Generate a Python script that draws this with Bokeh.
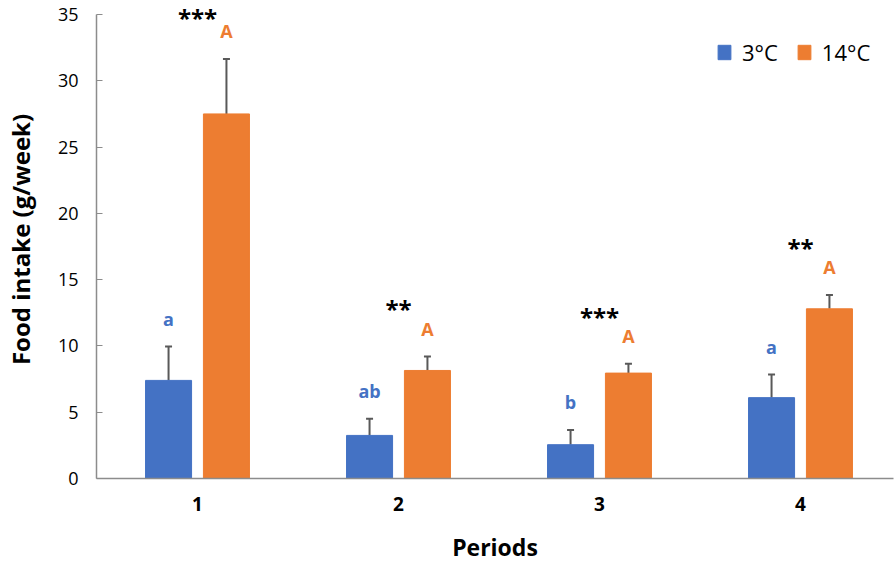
import numpy as np
from bokeh.plotting import figure
from bokeh.models import (ColumnDataSource, Whisker, TeeHead, LabelSet, FixedTicker,
                          Legend, LegendItem, Range1d)
from bokeh.core.properties import value
from bokeh.embed import file_html
from bokeh.resources import INLINE

# ---- data ----
periods = ["1", "2", "3", "4"]
temp_3c = [7.4, 3.25, 2.55, 6.1]
err_3c = [2.55, 1.25, 1.1, 1.75]
temp_14c = [27.5, 8.15, 7.95, 12.8]
err_14c = [4.15, 1.05, 0.7, 1.05]
letters_3c = ["a", "ab", "b", "a"]
letters_14c = ["A", "A", "A", "A"]
stars = ["***", "**", "***", "**"]
series_names = ["3°C", "14°C"]
y_ticks = [0, 5, 10, 15, 20, 25, 30, 35]

BLUE = "#4472C4"
ORANGE = "#ED7D31"
GRAY = "#595959"
FONT = "Open Sans"

xc = np.arange(1, len(periods) + 1, dtype=float)
off = 0.144
bw = 0.229
y_max = 35
y_top = y_max + 14 / (464 / y_max)  # headroom above the axis for annotations

p = figure(width=896, height=565, output_backend="svg", toolbar_location=None,
           x_range=Range1d(0.4975, 4.4627), y_range=Range1d(0, y_top),
           min_border_left=96, min_border_right=3, min_border_top=0, min_border_bottom=87)
p.outline_line_color = None
p.grid.grid_line_color = None
p.background_fill_color = "white"

b1 = p.vbar(x=xc - off, top=temp_3c, width=bw, fill_color=BLUE, line_color=BLUE)
b2 = p.vbar(x=xc + off, top=temp_14c, width=bw, fill_color=ORANGE, line_color=ORANGE)

for xs, vals, errs in ((xc - off, temp_3c, err_3c), (xc + off, temp_14c, err_14c)):
    v = np.array(vals); e = np.array(errs)
    src = ColumnDataSource(dict(x=xs, lower=v, upper=v + e))
    w = Whisker(base="x", lower="lower", upper="upper", source=src, dimension="height",
                line_color=GRAY, line_width=2, lower_head=None,
                upper_head=TeeHead(size=7, line_color=GRAY, line_width=2))
    p.add_layout(w)

tops3 = np.array(temp_3c) + np.array(err_3c)
tops14 = np.array(temp_14c) + np.array(err_14c)
lab_y3 = tops3 + 2.1
lab_y14 = tops14 + 2.1
star_y = np.minimum(lab_y14 + 1.5, 34.8)

lab_src = ColumnDataSource(dict(
    x=list(xc - off) + list(xc + off),
    y=list(lab_y3) + list(lab_y14),
    text=letters_3c + letters_14c,
    color=[BLUE] * 4 + [ORANGE] * 4))
p.add_layout(LabelSet(x="x", y="y", text="text", source=lab_src, text_color="color",
                      text_font=value(FONT), text_font_style="bold", text_font_size="18px",
                      text_align="center", text_baseline="middle"))
star_src = ColumnDataSource(dict(x=list(xc), y=list(star_y), text=stars))
p.add_layout(LabelSet(x="x", y="y", text="text", source=star_src, text_color="black",
                      text_font=value(FONT), text_font_style="bold", text_font_size="24px",
                      text_align="center", text_baseline="middle"))

# axes
p.xaxis.ticker = FixedTicker(ticks=list(xc))
p.xaxis.major_label_overrides = {float(i): s for i, s in zip(xc, periods)}
p.xaxis.major_label_overrides.update({int(i): s for i, s in zip(xc, periods)})
p.xaxis.major_tick_line_color = None
p.xaxis.minor_tick_line_color = None
p.xaxis.axis_line_color = "#8C8C8C"
p.xaxis.axis_line_width = 1.5
p.xaxis.major_label_text_font = FONT
p.xaxis.major_label_text_font_style = "bold"
p.xaxis.major_label_text_font_size = "19px"
p.xaxis.major_label_text_color = "black"
p.xaxis.major_label_standoff = 12
p.xaxis.axis_label = "Periods"
p.xaxis.axis_label_text_font = FONT
p.xaxis.axis_label_text_font_style = "bold"
p.xaxis.axis_label_text_font_size = "23px"
p.xaxis.axis_label_text_color = "black"
p.xaxis.axis_label_standoff = 17

p.yaxis.ticker = FixedTicker(ticks=y_ticks)
p.yaxis.bounds = (0, y_max)
p.yaxis.minor_tick_line_color = None
p.yaxis.major_tick_in = 6
p.yaxis.major_tick_out = 0
p.yaxis.major_tick_line_color = "#8C8C8C"
p.yaxis.axis_line_color = "#8C8C8C"
p.yaxis.axis_line_width = 1.5
p.yaxis.major_label_text_font = FONT
p.yaxis.major_label_text_font_size = "18px"
p.yaxis.major_label_text_color = "black"
p.yaxis.major_label_standoff = 18
p.yaxis.axis_label = "Food intake (g/week)"
p.yaxis.axis_label_text_font = FONT
p.yaxis.axis_label_text_font_style = "bold"
p.yaxis.axis_label_text_font_size = "24px"
p.yaxis.axis_label_text_color = "black"
p.yaxis.axis_label_standoff = 18

legend = Legend(items=[LegendItem(label=series_names[0], renderers=[b1]),
                       LegendItem(label=series_names[1], renderers=[b2])],
                orientation="horizontal", location=(620, 411),
                glyph_width=16, glyph_height=18, label_standoff=10, spacing=18,
                padding=0, margin=0, border_line_color=None, background_fill_alpha=0,
                label_text_font=FONT, label_text_font_size="22px", label_text_color="black")
p.add_layout(legend)

open("out.html", "w").write(file_html(p, INLINE))
